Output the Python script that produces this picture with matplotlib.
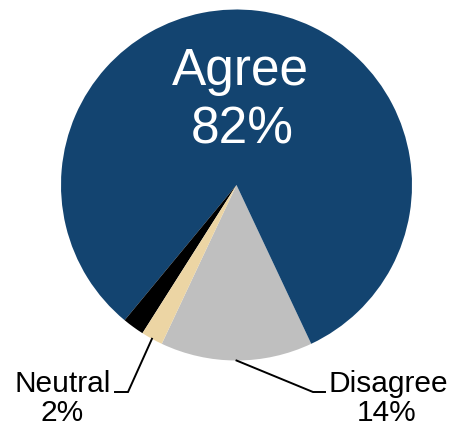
import numpy as np
import matplotlib.pyplot as plt

plt.rcParams['font.family'] = ['Liberation Sans', 'DejaVu Sans']

# survey shares, drawn counter-clockwise from the start angle
categories = ['Disagree', 'Agree', "Don't know", 'Neutral']
shares = [14, 82, 2, 2]
colors = ['#bfbfbf', '#134470', '#000000', '#ecd5a4']

W, H = 454, 428
fig = plt.figure(figsize=(W / 100, H / 100), dpi=100)
ax = fig.add_axes([0, 0, 1, 1])

cx, cy, r = 236.5, H - 185, 175.5
wedges, _ = ax.pie(
    shares,
    colors=colors,
    startangle=244.8,
    counterclock=True,
    center=(cx, cy),
    radius=r,
    wedgeprops=dict(linewidth=0),
)
ax.set_xlim(0, W)
ax.set_ylim(0, H)
ax.set_aspect('equal')
ax.axis('off')


def edge_point(w):
    mid = np.deg2rad((w.theta1 + w.theta2) / 2)
    return cx + r * np.cos(mid), cy + r * np.sin(mid)


# big label inside the agree slice
agree = shares[categories.index('Agree')]
ax.text(240, H - 85, 'Agree', color='white', fontsize=37, ha='center', va='baseline')
ax.text(242, H - 143, f'{agree}%', color='white', fontsize=37, ha='center', va='baseline')

# leader lines for the small slices below the pie
line_y = H - 392
callouts = {
    'Disagree': dict(elbow=313, end=325, tx=388),
    'Neutral': dict(elbow=128, end=115, tx=63),
}
for name, c in callouts.items():
    w = wedges[categories.index(name)]
    px, py = edge_point(w)
    ax.plot([px, c['elbow'], c['end']], [py, line_y, line_y], color='black', lw=1.4,
            solid_joinstyle='miter')
    val = shares[categories.index(name)]
    ax.text(c['tx'], H - 392, name, fontsize=21.5, ha='center', va='baseline')
    ax.text(c['tx'] - 1, H - 421, f'{val}%', fontsize=21.5, ha='center', va='baseline')

fig.savefig('out.png', dpi=100)
